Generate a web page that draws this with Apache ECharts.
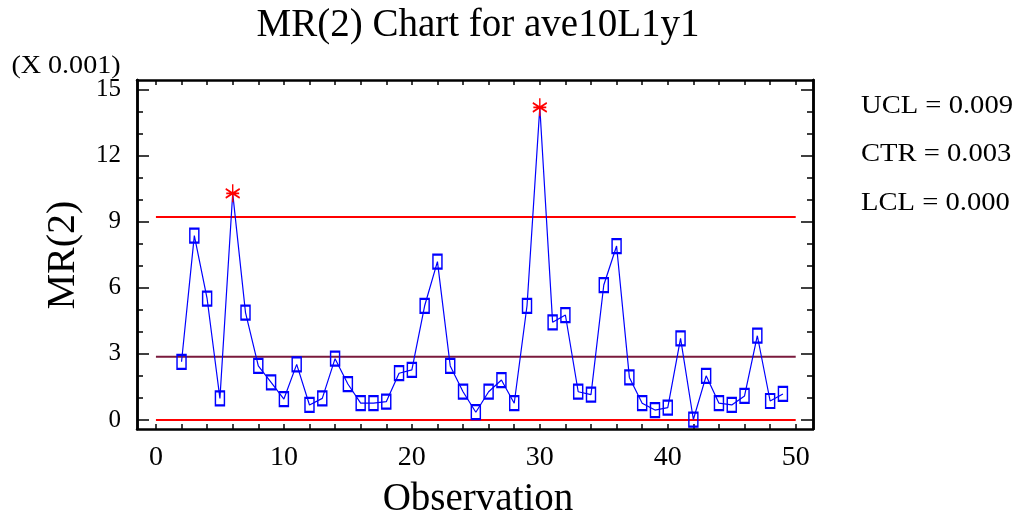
<!DOCTYPE html>
<html><head><meta charset="utf-8">
<script src="https://cdn.jsdelivr.net/npm/echarts@6/dist/echarts.min.js"></script>
<style>html,body{margin:0;padding:0;background:#fff}#c{width:1019px;height:527px}</style>
</head><body><div id="c"></div>
<script>
// observations (x) and MR(2) values in units of 0.001
const observations = [2,3,4,5,6,7,8,9,10,11,12,13,14,15,16,17,18,19,20,21,22,23,24,25,26,27,28,29,30,31,32,33,34,35,36,37,38,39,40,41,42,43,44,45,46,47,48,49];
const mrValues = [2.64,8.36,5.50,0.98,10.28,4.87,2.45,1.71,0.95,2.52,0.68,0.98,2.78,1.63,0.76,0.76,0.83,2.12,2.27,5.18,7.18,2.45,1.28,0.35,1.28,1.81,0.76,5.18,14.18,4.43,4.76,1.28,1.15,6.12,7.89,1.93,0.76,0.45,0.56,3.70,0.02,2.00,0.76,0.68,1.09,3.82,0.86,1.18];
const ucl = 9.21, ctr = 2.87, lcl = 0.0;
const limitSpan = [0, 50];
const xLabels = [0,10,20,30,40,50];
const xTicks = [0,2,4,6,8,10,12,14,16,18,20,22,24,26,28,30,32,34,36,38,40,42,44,46,48,50];
const yLabels = [0,3,6,9,12,15];
const yMinorTicks = [0,1,2,3,4,5,6,7,8,9,10,11,12,13,14,15];
const limitTexts = ['UCL = 0.009','CTR = 0.003','LCL = 0.000'];

const FONT = '"Liberation Serif","Times New Roman",serif';
const chart = echarts.init(document.getElementById('c'), null, {renderer:'canvas'});

const STAR = 'path://M0,-10L0,10M-8.66,-5L8.66,5M-8.66,5L8.66,-5M-8,0L8,0';
const dataPts = observations.map((x,i)=>{
  const v = mrValues[i];
  if (v > ucl) {
    return {value:[x,v], symbol:STAR, symbolSize:[14,18],
      itemStyle:{color:'none', borderColor:'#ff0000', borderWidth:1.6}};
  }
  return [x,v];
});

const baseX = {type:'value', min:-1.48, max:51.35, splitLine:{show:false},
  axisLine:{show:true, onZero:false, lineStyle:{color:'#000', width:2.5}}};
const baseY = {type:'value', min:-0.41, max:15.42, splitLine:{show:false},
  axisLine:{show:true, onZero:false, lineStyle:{color:'#000', width:2.5}}};

function limitLine(v, color) {
  return {type:'line', data: limitSpan.map(x=>[x,v]), symbol:'none', silent:true,
    lineStyle:{color:color, width:2}, z:1};
}

chart.setOption({
  animation:false,
  grid:{left:137, right:206, top:80, bottom:98},
  xAxis:[
    Object.assign({}, baseX, {position:'bottom',
      axisTick:{show:true, inside:true, length:5, customValues:xTicks, lineStyle:{color:'#000', width:1.5}},
      axisLabel:{show:true, customValues:xLabels, margin:15, fontFamily:FONT, fontSize:28, color:'#000'}}),
    Object.assign({}, baseX, {position:'top',
      axisTick:{show:true, inside:true, length:5, customValues:xTicks, lineStyle:{color:'#000', width:1.5}},
      axisLabel:{show:false}})
  ],
  yAxis:[
    Object.assign({}, baseY, {position:'left',
      axisTick:{show:true, inside:true, length:12, customValues:yLabels, lineStyle:{color:'#000', width:1.5}},
      axisLabel:{show:true, customValues:yLabels, margin:16, fontFamily:FONT, fontSize:25, color:'#000'}}),
    Object.assign({}, baseY, {position:'left',
      axisTick:{show:true, inside:true, length:6, customValues:yMinorTicks, lineStyle:{color:'#000', width:1.5}},
      axisLabel:{show:false}}),
    Object.assign({}, baseY, {position:'right',
      axisTick:{show:true, inside:true, length:12, customValues:yLabels, lineStyle:{color:'#000', width:1.5}},
      axisLabel:{show:false}}),
    Object.assign({}, baseY, {position:'right',
      axisTick:{show:true, inside:true, length:6, customValues:yMinorTicks, lineStyle:{color:'#000', width:1.5}},
      axisLabel:{show:false}})
  ],
  series:[
    limitLine(ucl, '#ff0000'),
    limitLine(ctr, '#7a1a3c'),
    limitLine(lcl, '#ff0000'),
    {type:'line', data:dataPts, symbol:'rect', symbolSize:[9,14], showAllSymbol:true,
      lineStyle:{color:'#0000ff', width:1.2},
      itemStyle:{color:'none', borderColor:'#0000ff', borderWidth:1.8}, z:3}
  ],
  graphic:[
    {type:'text', x:478, y:26, style:{text:'MR(2) Chart for ave10L1y1', font:'39px '+FONT, fill:'#000', align:'center', verticalAlign:'middle'}},
    {type:'text', x:66, y:66, scaleX:1.08, style:{text:'(X 0.001)', font:'26px '+FONT, fill:'#000', align:'center', verticalAlign:'middle'}},
    {type:'text', x:63, y:255, rotation:Math.PI/2, style:{text:'MR(2)', font:'40px '+FONT, fill:'#000', align:'center', verticalAlign:'middle'}},
    {type:'text', x:478, y:500, style:{text:'Observation', font:'39px '+FONT, fill:'#000', align:'center', verticalAlign:'middle'}},
    {type:'text', x:861, y:106, scaleX:1.1, style:{text:limitTexts[0], font:'26px '+FONT, fill:'#000', align:'left', verticalAlign:'middle'}},
    {type:'text', x:861, y:154, scaleX:1.1, style:{text:limitTexts[1], font:'26px '+FONT, fill:'#000', align:'left', verticalAlign:'middle'}},
    {type:'text', x:861, y:203, scaleX:1.1, style:{text:limitTexts[2], font:'26px '+FONT, fill:'#000', align:'left', verticalAlign:'middle'}}
  ]
});
</script></body></html>
